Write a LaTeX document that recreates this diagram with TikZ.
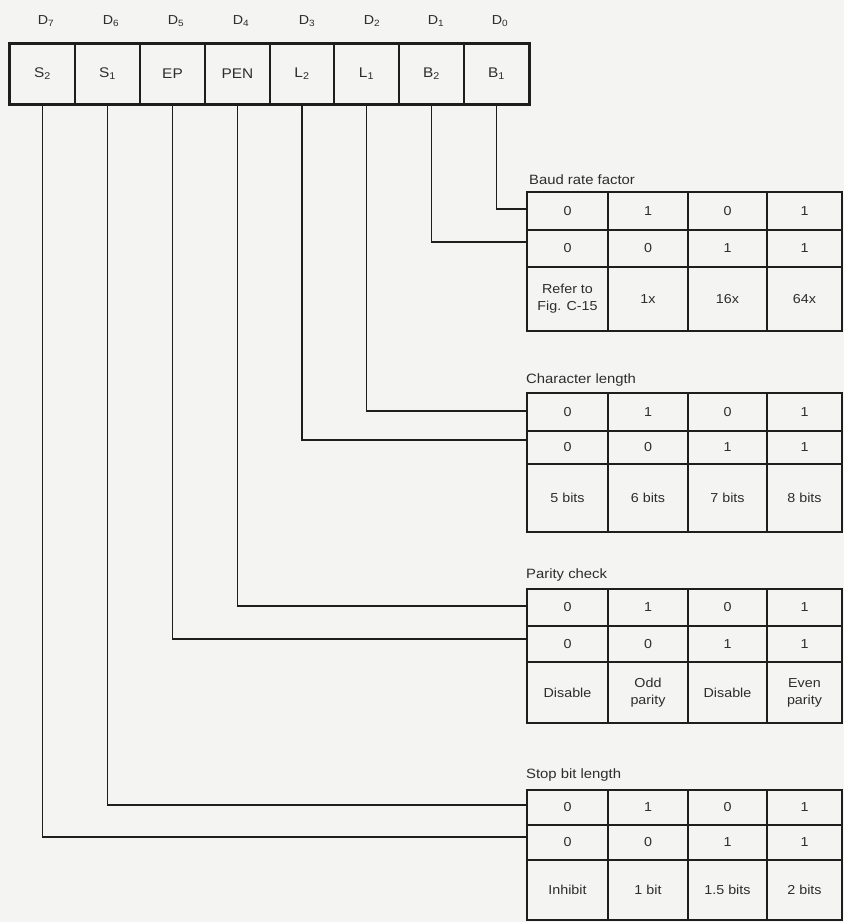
\documentclass[tikz,border=0pt]{standalone}
\usepackage{fontspec}
\setmainfont[FakeStretch=1.1]{Liberation Sans}
\definecolor{ink}{RGB}{30,30,30}
\definecolor{txt}{RGB}{45,45,45}
\definecolor{paper}{RGB}{244,244,242}
\tikzset{
  cellbox/.style={draw=ink, line width=1.8pt, inner sep=0pt, align=center,
    font=\fontsize{13}{17}\selectfont, text=txt},
  regbox/.style={cellbox, font=\fontsize{14}{16}\selectfont},
  dlabel/.style={font=\fontsize{13}{15}\selectfont, text=txt, inner sep=0pt},
  ttl/.style={font=\fontsize{13.5}{15}\selectfont, text=txt, inner sep=0pt, anchor=west},
  conn/.style={draw=ink, line width=1.7pt},
  outer/.style={draw=ink, line width=2.8pt},
}
\newcommand{\tcell}[7][cellbox]{\node[#1, minimum width={#5-#3}, minimum height={#6-#4}] (#2) at ({(#3+#5)/2},{(#4+#6)/2}) {#7};}
\newcommand{\mkrow}[7]{%
  \tcell{#1a}{527}{#2}{608}{#3}{#4}
  \tcell{#1b}{608}{#2}{688}{#3}{#5}
  \tcell{#1c}{688}{#2}{767}{#3}{#6}
  \tcell{#1d}{767}{#2}{842}{#3}{#7}}
\begin{document}
\begin{tikzpicture}[x=1pt,y=-1pt]
\fill[paper] (0,0) rectangle (844,922);
\useasboundingbox (0,0) rectangle (844,922);

% register
\tcell[regbox]{r7}{10}{44}{75}{104}{S\textsubscript{2}}
\tcell[regbox]{r6}{75}{44}{140}{104}{S\textsubscript{1}}
\tcell[regbox]{r5}{140}{44}{205}{104}{EP}
\tcell[regbox]{r4}{205}{44}{270}{104}{PEN}
\tcell[regbox]{r3}{270}{44}{334}{104}{L\textsubscript{2}}
\tcell[regbox]{r2}{334}{44}{399}{104}{L\textsubscript{1}}
\tcell[regbox]{r1}{399}{44}{464}{104}{B\textsubscript{2}}
\tcell[regbox]{r0}{464}{44}{529}{104}{B\textsubscript{1}}
\draw[outer] (r7.north west) rectangle (r0.south east);

\node[dlabel] (d7) at (46,21) {D\textsubscript{7}};
\node[dlabel] (d6) at (111,21) {D\textsubscript{6}};
\node[dlabel] (d5) at (176,21) {D\textsubscript{5}};
\node[dlabel] (d4) at (241,21) {D\textsubscript{4}};
\node[dlabel] (d3) at (307,21) {D\textsubscript{3}};
\node[dlabel] (d2) at (372,21) {D\textsubscript{2}};
\node[dlabel] (d1) at (436,21) {D\textsubscript{1}};
\node[dlabel] (d0) at (500,21) {D\textsubscript{0}};

% Baud rate factor
\node[ttl] (bat) at (529,180) {Baud rate factor};
\mkrow{bar1}{192}{230}{0}{1}{0}{1}
\mkrow{bar2}{230}{267}{0}{0}{1}{1}
\mkrow{bar3}{267}{331}{Refer to\\Fig. C-15}{1x}{16x}{64x}

% Character length
\node[ttl] (clt) at (526,380) {Character length};
\mkrow{clr1}{393}{431}{0}{1}{0}{1}
\mkrow{clr2}{431}{464}{0}{0}{1}{1}
\mkrow{clr3}{464}{532}{5 bits}{6 bits}{7 bits}{8 bits}

% Parity check
\node[ttl] (pct) at (526,575) {Parity check};
\mkrow{pcr1}{589}{626}{0}{1}{0}{1}
\mkrow{pcr2}{626}{662}{0}{0}{1}{1}
\mkrow{pcr3}{662}{723}{Disable}{Odd\\parity}{Disable}{Even\\parity}

% Stop bit length
\node[ttl] (sbt) at (526,775) {Stop bit length};
\mkrow{sbr1}{790}{825}{0}{1}{0}{1}
\mkrow{sbr2}{825}{860}{0}{0}{1}{1}
\mkrow{sbr3}{860}{920}{Inhibit}{1 bit}{1.5 bits}{2 bits}

% connector end points
\coordinate (ba1) at (527,209);
\coordinate (ba2) at (527,242);
\coordinate (cl1) at (527,411);
\coordinate (cl2) at (527,440);
\coordinate (pc1) at (527,606);
\coordinate (pc2) at (527,639);
\coordinate (sb1) at (527,805);
\coordinate (sb2) at (527,837);

\draw[conn] (r0.south) |- (ba1);
\draw[conn] (r1.south) |- (ba2);
\draw[conn] (r2.south) |- (cl1);
\draw[conn] (r3.south) |- (cl2);
\draw[conn] (r4.south) |- (pc1);
\draw[conn] (r5.south) |- (pc2);
\draw[conn] (r6.south) |- (sb1);
\draw[conn] (r7.south) |- (sb2);
\end{tikzpicture}
\end{document}
